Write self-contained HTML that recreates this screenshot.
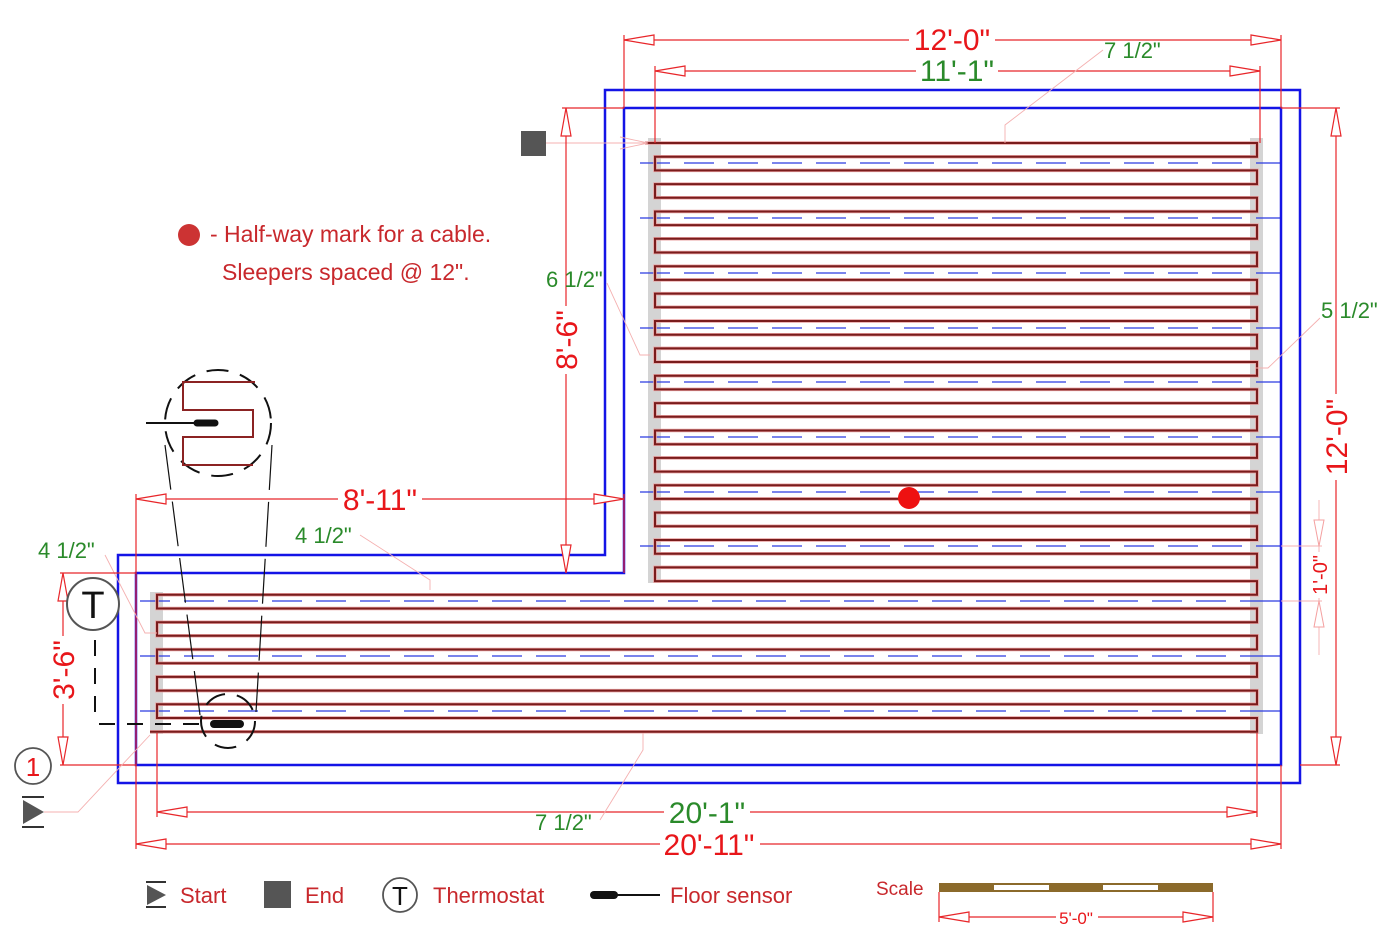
<!DOCTYPE html>
<html><head><meta charset="utf-8"><style>
html,body{margin:0;padding:0;background:#fff;}
svg{display:block;font-family:"Liberation Sans",Arial,sans-serif;}
.r{fill:none;stroke:#e8262a;stroke-width:1.2}
.rf{fill:none;stroke:#f4b0b0;stroke-width:0.9}
.ah{fill:#fff;stroke:#e8262a;stroke-width:1.2}
.tr{fill:#e8161a}
.tg{fill:#2a8a2a}
.lt{fill:#c8282c}
</style></head><body>
<svg width="1400" height="952" viewBox="0 0 1400 952" xmlns="http://www.w3.org/2000/svg">
<rect x="648" y="138" width="13" height="445" fill="#d4d4d4"/>
<rect x="1250" y="138" width="13" height="596" fill="#d4d4d4"/>
<rect x="150" y="592" width="13" height="142" fill="#d4d4d4"/>

<g stroke="#2a3ae0" stroke-width="1.2">
<g stroke-dasharray="30 14">
<line x1="640" y1="163" x2="1262" y2="163"/><line x1="640" y1="218" x2="1262" y2="218"/>
<line x1="640" y1="273" x2="1262" y2="273"/><line x1="640" y1="328" x2="1262" y2="328"/>
<line x1="640" y1="382" x2="1262" y2="382"/><line x1="640" y1="437" x2="1262" y2="437"/>
<line x1="640" y1="492" x2="1262" y2="492"/><line x1="640" y1="546" x2="1262" y2="546"/>
<line x1="140" y1="601" x2="1262" y2="601"/><line x1="140" y1="656" x2="1262" y2="656"/>
<line x1="140" y1="711" x2="1262" y2="711"/>
</g>
<path d="M1262 163H1281M1262 218H1281M1262 273H1281M1262 328H1281M1262 382H1281M1262 437H1281M1262 492H1281M1262 546H1281M1262 601H1281M1262 656H1281M1262 711H1281"/>
</g>

<path fill="none" stroke="#e8a0a0" stroke-width="3.5" d="M645 143 H1257 V156.7 H655 V170.4 H1257 V184.1 H655 V197.8 H1257 V211.5 H655 V225.1 H1257 V238.8 H655 V252.5 H1257 V266.2 H655 V279.9 H1257 V293.6 H655 V307.3 H1257 V321 H655 V334.7 H1257 V348.4 H655 V362 H1257 V375.7 H655 V389.4 H1257 V403.1 H655 V416.8 H1257 V430.5 H655 V444.2 H1257 V457.9 H655 V471.6 H1257 V485.3 H655 V498.9 H1257 V512.6 H655 V526.3 H1257 V540 H655 V553.7 H1257 V567.4 H655 V581.1 H1257 V594.8 H157 V608.5 H1257 V622.2 H157 V635.8 H1257 V649.5 H157 V663.2 H1257 V676.9 H157 V690.6 H1257 V704.3 H157 V718 H1257 V731.7 H150"/>
<path fill="none" stroke="#7a1c1c" stroke-width="2" d="M645 143 H1257 V156.7 H655 V170.4 H1257 V184.1 H655 V197.8 H1257 V211.5 H655 V225.1 H1257 V238.8 H655 V252.5 H1257 V266.2 H655 V279.9 H1257 V293.6 H655 V307.3 H1257 V321 H655 V334.7 H1257 V348.4 H655 V362 H1257 V375.7 H655 V389.4 H1257 V403.1 H655 V416.8 H1257 V430.5 H655 V444.2 H1257 V457.9 H655 V471.6 H1257 V485.3 H655 V498.9 H1257 V512.6 H655 V526.3 H1257 V540 H655 V553.7 H1257 V567.4 H655 V581.1 H1257 V594.8 H157 V608.5 H1257 V622.2 H157 V635.8 H1257 V649.5 H157 V663.2 H1257 V676.9 H157 V690.6 H1257 V704.3 H157 V718 H1257 V731.7 H150"/>

<g fill="none" stroke="#1414e6" stroke-width="2.5">
<path d="M605 90H1300V783H118V555H605Z"/>
<path d="M624 108H1281V765H136V573H624Z"/>
</g>

<circle cx="909" cy="498" r="11" fill="#ee1111"/>

<rect x="521" y="131" width="25" height="25" fill="#555"/>
<path class="rf" d="M546 143H648 M620 137L648 143L620 149"/>

<!-- top dims -->
<path class="r" d="M624 35V108 M1281 35V108 M624 40H1281 M655 66V143 M1260 66V143 M655 71H1260"/>
<path class="ah" d="M624 40L654 35V45Z M1281 40L1251 35V45Z M655 71L685 66V76Z M1260 71L1230 66V76Z"/>
<rect x="909" y="26" width="86" height="28" fill="#fff"/>
<text x="952" y="50" font-size="30" text-anchor="middle" class="tr">12'-0"</text>
<rect x="916" y="58" width="82" height="27" fill="#fff"/>
<text x="957" y="81" font-size="30" text-anchor="middle" class="tg">11'-1"</text>
<path class="rf" d="M1103 50L1005 125V143"/>
<text x="1104" y="58" font-size="22" class="tg">7 1/2"</text>

<!-- 8'-6" -->
<path class="r" d="M562 108H624 M566 108V573"/>
<path class="ah" d="M566 108L561 136H571Z M566 573L561 545H571Z"/>
<rect x="552" y="306" width="28" height="68" fill="#fff"/>
<text transform="translate(577,340) rotate(-90)" font-size="30" text-anchor="middle" class="tr">8'-6"</text>
<path class="rf" d="M607 283L640 355H650"/>
<text x="546" y="287" font-size="22" class="tg">6 1/2"</text>

<!-- right 12'-0" -->
<path class="r" d="M1281 108H1340 M1300 765H1340 M1336 108V765"/>
<path class="ah" d="M1336 108L1331 136H1341Z M1336 765L1331 737H1341Z"/>
<rect x="1322" y="394" width="28" height="86" fill="#fff"/>
<text transform="translate(1347,437) rotate(-90)" font-size="30" text-anchor="middle" class="tr">12'-0"</text>
<path class="rf" d="M1320 318L1268 368H1255"/>
<text x="1321" y="318" font-size="22" class="tg">5 1/2"</text>

<!-- 1'-0" -->
<path class="rf" d="M1281 546H1322 M1281 601H1322 M1319 500V655"/>
<path fill="#fff" stroke="#f4a0a0" stroke-width="1" d="M1319 546L1314 520H1324Z M1319 601L1314 627H1324Z"/>
<rect x="1309" y="552" width="20" height="46" fill="#fff"/>
<text transform="translate(1327,575) rotate(-90)" font-size="20" text-anchor="middle" class="tr">1'-0"</text>

<!-- 8'-11" -->
<path class="r" d="M136 494V849 M624 494V573 M136 499H624"/>
<path class="ah" d="M136 499L166 494V504Z M624 499L594 494V504Z"/>
<rect x="338" y="484" width="84" height="28" fill="#fff"/>
<text x="380" y="510" font-size="30" text-anchor="middle" class="tr">8'-11"</text>
<path class="rf" d="M360 535L430 580V590"/>
<text x="295" y="543" font-size="22" class="tg">4 1/2"</text>
<path class="rf" d="M105 555L145 633H157"/>
<text x="38" y="558" font-size="22" class="tg">4 1/2"</text>

<!-- 3'-6" -->
<path class="r" d="M60 573H136 M60 765H136 M63 573V765"/>
<path class="ah" d="M63 573L58 601H68Z M63 765L58 737H68Z"/>
<rect x="49" y="636" width="28" height="68" fill="#fff"/>
<text transform="translate(74,670) rotate(-90)" font-size="30" text-anchor="middle" class="tr">3'-6"</text>

<!-- bottom dims -->
<path class="r" d="M157 733V817 M1257 733V817 M157 812H1257 M1281 765V849 M136 844H1281"/>
<path class="ah" d="M157 812L187 807V817Z M1257 812L1227 807V817Z M136 844L166 839V849Z M1281 844L1251 839V849Z"/>
<rect x="664" y="798" width="86" height="27" fill="#fff"/>
<text x="707" y="823" font-size="30" text-anchor="middle" class="tg">20'-1"</text>
<rect x="660" y="830" width="100" height="28" fill="#fff"/>
<text x="709" y="855" font-size="30" text-anchor="middle" class="tr">20'-11"</text>
<path class="rf" d="M600 820L643 750V733"/>
<text x="535" y="830" font-size="22" class="tg">7 1/2"</text>

<!-- start markers -->
<circle cx="33" cy="766" r="18" fill="#fff" stroke="#555" stroke-width="1.8"/>
<text x="33" y="776" font-size="26" text-anchor="middle" class="tr">1</text>
<path d="M22 797H44M22 827H44" stroke="#333" stroke-width="2"/>
<path d="M23 800L44 812L23 824Z" fill="#555"/>
<path class="rf" d="M44 812H78L150 735"/>

<!-- thermostat -->
<circle cx="93" cy="604" r="26" fill="#fff" stroke="#555" stroke-width="2"/>
<text x="93" y="618" font-size="38" text-anchor="middle" fill="#111">T</text>
<path d="M95 640V722 M99 724H205" stroke="#111" stroke-width="2" stroke-dasharray="16 12" fill="none"/>
<line x1="214" y1="724" x2="240" y2="724" stroke="#111" stroke-width="8" stroke-linecap="round"/>
<circle cx="228" cy="721" r="27" fill="none" stroke="#111" stroke-width="2" stroke-dasharray="22 12"/>

<!-- magnified detail -->
<path d="M165 445L200 715 M272 445L256 712" stroke="#111" stroke-width="1.2" stroke-dasharray="45 12" fill="none"/>
<circle cx="218" cy="423" r="53" fill="#fff" stroke="#111" stroke-width="2" stroke-dasharray="22 12"/>
<path d="M255 382H183V410H253V437H183V465H253" fill="none" stroke="#8b2323" stroke-width="2"/>
<line x1="146" y1="423" x2="200" y2="423" stroke="#111" stroke-width="2"/>
<line x1="197" y1="423" x2="215" y2="423" stroke="#111" stroke-width="7" stroke-linecap="round"/>

<!-- notes -->
<circle cx="189" cy="235" r="11" fill="#cc3333"/>
<text x="210" y="242" font-size="23" class="lt">- Half-way mark for a cable.</text>
<text x="222" y="280" font-size="23" class="lt">Sleepers spaced @ 12".</text>

<!-- legend -->
<path d="M146 882H166M146 907H166" stroke="#333" stroke-width="2"/>
<path d="M147 885L166 895L147 905Z" fill="#555"/>
<text x="180" y="903" font-size="22" class="lt">Start</text>
<rect x="264" y="881" width="27" height="27" fill="#555"/>
<text x="305" y="903" font-size="22" class="lt">End</text>
<circle cx="400" cy="895" r="17" fill="#fff" stroke="#555" stroke-width="1.8"/>
<text x="400" y="905" font-size="26" text-anchor="middle" fill="#111">T</text>
<text x="433" y="903" font-size="22" class="lt">Thermostat</text>
<line x1="615" y1="895" x2="660" y2="895" stroke="#111" stroke-width="2"/>
<line x1="594" y1="895" x2="614" y2="895" stroke="#111" stroke-width="8" stroke-linecap="round"/>
<text x="670" y="903" font-size="22" class="lt">Floor sensor</text>
<text x="876" y="895" font-size="19" class="lt">Scale</text>
<rect x="939" y="883" width="274" height="9" fill="#8b6a2b"/>
<rect x="994" y="885" width="55" height="5" fill="#fff"/>
<rect x="1103" y="885" width="55" height="5" fill="#fff"/>
<path class="r" d="M939 892V922 M1213 892V922 M939 917H1213"/>
<path class="ah" d="M939 917L969 912V922Z M1213 917L1183 912V922Z"/>
<rect x="1056" y="908" width="42" height="18" fill="#fff"/>
<text x="1076" y="924" font-size="17" text-anchor="middle" class="tr">5'-0"</text>
</svg>
</body></html>
